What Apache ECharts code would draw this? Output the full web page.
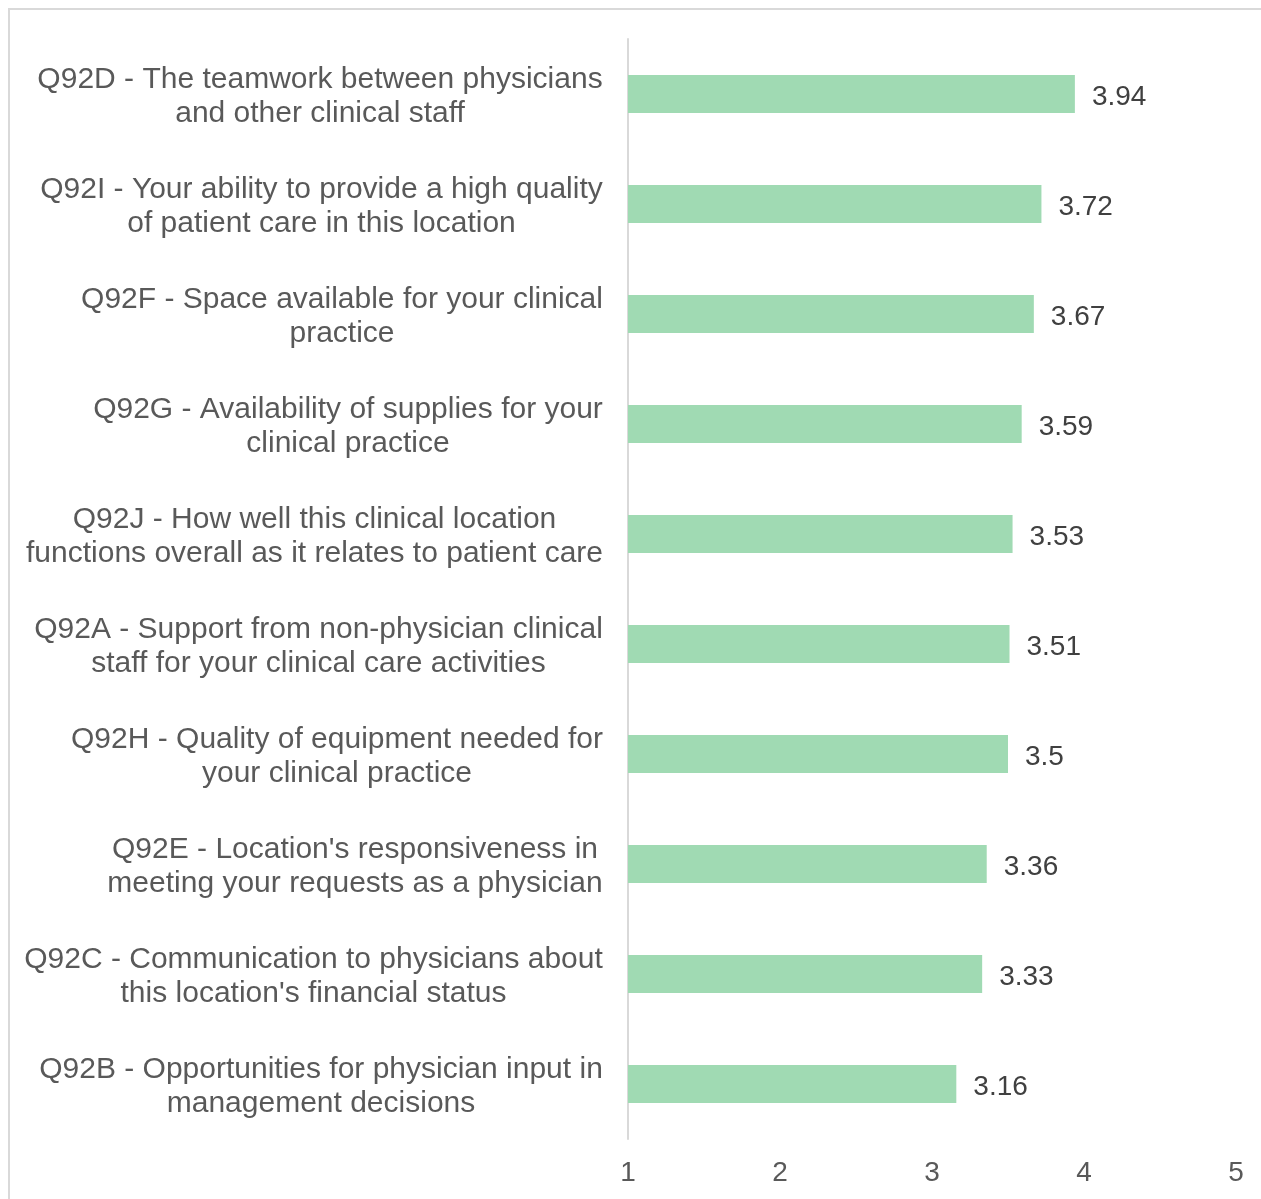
<!DOCTYPE html>
<html>
<head>
<meta charset="utf-8">
<script src="https://cdn.jsdelivr.net/npm/echarts@6/dist/echarts.min.js"></script>
<style>
html,body{margin:0;padding:0;background:#fff;}
#c{width:1261px;height:1199px;}
</style>
</head>
<body>
<div id="c"></div>
<script>
var categories = [
  "Q92D - The teamwork between physicians\nand other clinical staff",
  "Q92I - Your ability to provide a high quality\nof patient care in this location",
  "Q92F - Space available for your clinical\npractice",
  "Q92G - Availability of supplies for your\nclinical practice",
  "Q92J - How well this clinical location\nfunctions overall as it relates to patient care",
  "Q92A - Support from non-physician clinical\nstaff for your clinical care activities",
  "Q92H - Quality of equipment needed for\nyour clinical practice",
  "Q92E - Location's responsiveness in\nmeeting your requests as a physician",
  "Q92C - Communication to physicians about\nthis location's financial status",
  "Q92B - Opportunities for physician input in\nmanagement decisions"
];
var values = [3.94, 3.72, 3.67, 3.59, 3.53, 3.51, 3.5, 3.36, 3.33, 3.16];
var xTicks = [1, 2, 3, 4, 5];

var font = '"Liberation Sans", Arial, sans-serif';
var catFontSize = 30;

// measure each category block to center its lines within the block
var cv = document.createElement('canvas').getContext('2d');
cv.font = catFontSize + 'px ' + font;
var rich = {};
categories.forEach(function (c, i) {
  var w = 0;
  c.split('\n').forEach(function (ln) { w = Math.max(w, cv.measureText(ln).width); });
  rich['r' + i] = {
    width: Math.ceil(w) + 2, align: 'center', color: '#595959',
    fontSize: catFontSize, fontFamily: font, lineHeight: 34
  };
});

var chart = echarts.init(document.getElementById('c'));
chart.setOption({
  animation: false,
  graphic: [{
    type: 'rect',
    shape: {x: 9, y: 9, width: 1400, height: 1400},
    style: {fill: 'none', stroke: '#d9d9d9', lineWidth: 2}
  }],
  grid: {left: 628, right: 25, top: 39, bottom: 60, containLabel: false},
  xAxis: {
    type: 'value',
    min: xTicks[0],
    max: xTicks[xTicks.length - 1],
    interval: 1,
    axisLine: {show: false},
    axisTick: {show: false},
    splitLine: {show: false},
    axisLabel: {color: '#595959', fontSize: 28, fontFamily: font, margin: 20}
  },
  yAxis: {
    type: 'category',
    inverse: true,
    data: categories,
    axisLine: {show: true, lineStyle: {color: '#d9d9d9', width: 2}},
    axisTick: {show: false},
    axisLabel: {
      color: '#595959', fontSize: catFontSize, fontFamily: font, margin: 24,
      lineHeight: 34, rich: rich, padding: [5, 0, 0, 0],
      formatter: function (v) {
        var i = categories.indexOf(v);
        return v.split('\n').map(function (ln) { return '{r' + i + '|' + ln + '}'; }).join('\n');
      }
    }
  },
  series: [{
    type: 'bar',
    data: values,
    barWidth: 38,
    itemStyle: {color: '#a0dab3'},
    label: {
      show: true, position: 'right', distance: 17, offset: [0, 3],
      color: '#404040', fontSize: 28, fontFamily: font
    }
  }]
});
</script>
</body>
</html>
